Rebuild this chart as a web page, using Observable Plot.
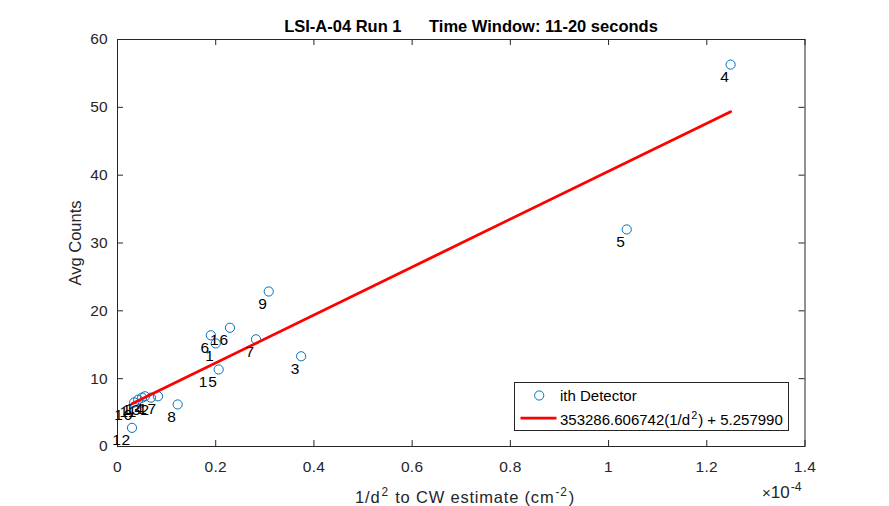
<!DOCTYPE html>
<html>
<head>
<meta charset="utf-8">
<script src="https://cdn.jsdelivr.net/npm/d3@7"></script>
<script src="https://cdn.jsdelivr.net/npm/@observablehq/plot@0.6"></script>
<style>
  html, body { margin: 0; padding: 0; background: #fff; }
  #wrap { position: relative; width: 889px; height: 506px; overflow: hidden;
          font-family: "Liberation Sans", Arial, Helvetica, sans-serif; color: #262626; }
  #wrap > svg { position: absolute; left: 0; top: 0; }
  .t { position: absolute; white-space: pre; line-height: 1; }
  .c { transform: translate(-50%, -50%); }
  sup { font-size: 72%; vertical-align: 0; position: relative; top: -0.55em; line-height: 0; margin: 0 1px; }
  #legend { position: absolute; left: 513.5px; top: 381.5px; width: 273.5px; height: 47.5px;
            border: 1px solid #262626; background: #fff; }
  #legend svg { position: absolute; left: 0; top: 0; }
  g[aria-label="x-axis tick label"] text, g[aria-label="y-axis tick label"] text { letter-spacing: 0.3px; }
  g[aria-label="text"] text { letter-spacing: 0.8px; }
</style>
</head>
<body>
<div id="wrap"></div>
<script>
// ---- data (x in units of 1e-4 cm^-2) ----
const detectorIds = [1, 2, 3, 4, 5, 6, 7, 8, 9, 10, 11, 12, 13, 14, 15, 16, 17];
const invD2e4   = [0.200, 0.068, 0.374, 1.2485, 1.037, 0.190, 0.282, 0.1225, 0.308, 0.034, 0.042, 0.0295, 0.050, 0.056, 0.206, 0.229, 0.0825];
const avgCounts = [15.2, 7.2, 13.3, 56.3, 32.0, 16.4, 15.8, 6.2, 22.85, 6.5, 6.9, 2.75, 7.2, 7.4, 11.35, 17.5, 7.4];
const fitSlope = 353286.606742;   // per cm^-2
const fitIntercept = 5.257990;
const xTicks = [0, 0.2, 0.4, 0.6, 0.8, 1, 1.2, 1.4];
const yTicks = [0, 10, 20, 30, 40, 50, 60];
const titleText = "LSI-A-04 Run 1      Time Window: 11-20 seconds";
const yLabelText = "Avg Counts";
const xLabelHtml = "1/d<sup>2</sup> to CW estimate (cm<sup>-2</sup>)";
const legendLabels = ["ith Detector", "353286.606742(1/d<sup>2</sup>) + 5.257990"];

const points = detectorIds.map((id, i) => ({id, x: invD2e4[i], y: avgCounts[i]}));
const xExt = d3.extent(invD2e4);
const fit = xExt.map(x => ({x, y: fitSlope * x * 1e-4 + fitIntercept}));

const FONT = "Liberation Sans, Arial, Helvetica, sans-serif";
const AX = "#262626";
const W = 889, H = 506, ML = 117, MR = 84.5, MT = 39, MB = 60;
const PW = W - ML - MR, PH = H - MT - MB, TL = 6;

const chart = Plot.plot({
  width: W, height: H,
  marginLeft: ML, marginRight: MR, marginTop: MT, marginBottom: MB,
  style: {fontFamily: FONT, fontSize: "15.5px", color: AX, background: "transparent", overflow: "visible"},
  x: {domain: [0, 1.4], label: null},
  y: {domain: [0, 60], label: null},
  marks: [
    Plot.axisX(xTicks, {anchor: "bottom", tickSize: 0, tickPadding: 14.5, tickFormat: d3.format("~g"), fontSize: 15.5, label: null}),
    Plot.axisY(yTicks, {anchor: "left", tickSize: 0, tickPadding: 9.5, tickFormat: d3.format("~g"), fontSize: 15.5, label: null}),
    Plot.tickX(xTicks, {x: d => d, insetTop: PH - TL, stroke: AX}),
    Plot.tickX(xTicks, {x: d => d, insetBottom: PH - TL, stroke: AX}),
    Plot.tickY(yTicks, {y: d => d, insetRight: PW - TL, stroke: AX}),
    Plot.tickY(yTicks, {y: d => d, insetLeft: PW - TL, stroke: AX}),
    Plot.frame({stroke: AX}),
    Plot.dot(points, {x: "x", y: "y", r: 4.6, stroke: "#0072BD", fill: "none", strokeWidth: 1}),
    Plot.line(fit, {x: "x", y: "y", stroke: "#FF0000", strokeWidth: 2.8}),
    Plot.text(points, {x: "x", y: "y", text: d => String(d.id), textAnchor: "end", dx: -1, dy: 12.5, fontSize: 15.5, fill: "#000"})
  ]
});

const wrap = document.getElementById("wrap");
wrap.appendChild(chart);

function addText(html, left, top, style) {
  const d = document.createElement("div");
  d.className = "t c";
  d.innerHTML = html;
  d.style.left = left + "px";
  d.style.top = top + "px";
  Object.assign(d.style, style || {});
  wrap.appendChild(d);
  return d;
}
addText(titleText, 471, 25.5, {fontWeight: "bold", fontSize: "16.5px", color: "#000"});
addText(yLabelText, 75, 242.5, {fontSize: "16.5px", transform: "translate(-50%,-50%) rotate(-90deg)"});
addText(xLabelHtml, 465, 497, {fontSize: "16.5px", letterSpacing: "0.8px"});
addText("<span style='font-size:15px'>×</span>10<sup>-4</sup>", 762, 492, {fontSize: "17px", transform: "translate(0,-50%)"});

// legend
const lg = document.createElement("div");
lg.id = "legend";
lg.innerHTML =
  `<svg width="274" height="48">
     <circle cx="24.2" cy="12.5" r="4.6" fill="none" stroke="#0072BD" stroke-width="1"></circle>
     <line x1="5.5" x2="41.5" y1="35.2" y2="35.2" stroke="#FF0000" stroke-width="2.8"></line>
   </svg>
   <div class="t" style="left:45.5px;top:12.5px;transform:translate(0,-50%);font-size:15px;color:#000">${legendLabels[0]}</div>
   <div class="t" style="left:45.5px;top:36px;transform:translate(0,-50%);font-size:15px;color:#000">${legendLabels[1]}</div>`;
wrap.appendChild(lg);
</script>
</body>
</html>
